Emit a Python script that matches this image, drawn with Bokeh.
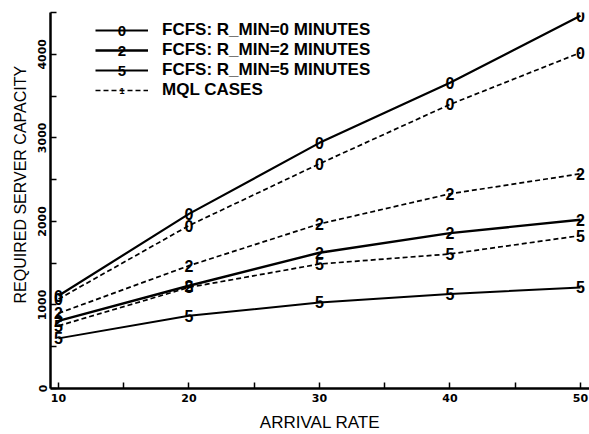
from bokeh.plotting import figure
from bokeh.models import (FixedTicker, Range1d, Legend, LegendItem, Label,
                          ColumnDataSource, Title)
from bokeh.core.properties import value
from bokeh.embed import file_html
from bokeh.resources import INLINE

# ---- data ----
arrival = [10, 20, 30, 40, 50]
fcfs_0 = [1110, 2090, 2940, 3660, 4460]
fcfs_2 = [810, 1230, 1625, 1860, 2020]
fcfs_5 = [600, 870, 1030, 1130, 1210]
mql_0 = [1070, 1950, 2690, 3400, 4020]
mql_2 = [900, 1470, 1970, 2330, 2570]
mql_5 = [750, 1210, 1490, 1610, 1830]

legend_labels = ["FCFS: R_MIN=0 MINUTES", "FCFS: R_MIN=2 MINUTES",
                 "FCFS: R_MIN=5 MINUTES", "MQL CASES"]
x_ticks = [10, 20, 30, 40, 50]
x_minor = [15, 25, 35, 45]
y_ticks = [0, 1000, 2000, 3000, 4000]
y_minor = [500, 1500, 2500, 3500, 4500]

FONT = "Liberation Sans"
TICK_FONT = "DejaVu Sans"

p = figure(width=589, height=434, output_backend="svg", toolbar_location=None,
           x_range=Range1d(9.39, 50.69), y_range=Range1d(0, 4500),
           min_border_left=50, min_border_right=0, min_border_top=12,
           min_border_bottom=46)
p.outline_line_color = None
p.grid.visible = False
p.background_fill_color = "white"

for ax in (p.xaxis[0], p.yaxis[0]):
    ax.axis_line_width = 2.5
    ax.axis_line_color = "black"
    ax.major_tick_in = 6
    ax.major_tick_out = 0
    ax.minor_tick_in = 6
    ax.minor_tick_out = 0
    ax.major_tick_line_width = 1.5
    ax.minor_tick_line_width = 1.5
    ax.major_label_text_font = TICK_FONT
    ax.major_label_text_font_style = "bold"
    ax.major_label_text_font_size = "11px"
    ax.major_label_text_color = "black"
    ax.axis_label_text_font = FONT
    ax.axis_label_text_font_style = "normal"
    ax.axis_label_text_color = "black"

p.xaxis.ticker = FixedTicker(ticks=x_ticks, minor_ticks=x_minor)
p.yaxis.ticker = FixedTicker(ticks=y_ticks, minor_ticks=y_minor)
p.xaxis.axis_label = "ARRIVAL RATE"
p.xaxis.axis_label_text_font_size = "17px"
p.yaxis.major_label_orientation = "vertical"
p.xaxis.major_label_standoff = 5
p.yaxis.major_label_standoff = 4
p.xaxis.axis_label_standoff = 8

ytitle = Title(text="REQUIRED SERVER CAPACITY", align="left", offset=85,
               text_font=FONT, text_font_style="normal",
               text_font_size="16px", text_color="black", standoff=14)
p.add_layout(ytitle, "left")

series = [
    (fcfs_0, "0", "solid", 2.2),
    (fcfs_2, "2", "solid", 2.4),
    (fcfs_5, "5", "solid", 2.0),
    (mql_0, "0", "5 3", 1.7),
    (mql_2, "2", "5 3", 1.7),
    (mql_5, "5", "5 3", 1.7),
]

line_renderers = []
for ys, mark, dash, lw in series:
    src = ColumnDataSource(dict(x=arrival, y=ys, t=[mark] * len(arrival)))
    r = p.line("x", "y", source=src, line_color="black", line_width=lw,
               line_dash=dash)
    line_renderers.append(r)
    p.text("x", "y", text="t", source=src, text_font=value(FONT),
           text_font_style="bold", text_font_size="16px",
           text_align="center", text_baseline="middle", text_color="black")

legend = Legend(items=[
    LegendItem(label=legend_labels[0], renderers=[line_renderers[0]]),
    LegendItem(label=legend_labels[1], renderers=[line_renderers[1]]),
    LegendItem(label=legend_labels[2], renderers=[line_renderers[2]]),
    LegendItem(label=legend_labels[3], renderers=[line_renderers[3]]),
], location=(45, 288))
legend.glyph_width = 53
legend.glyph_height = 20
legend.label_height = 20
legend.spacing = 0
legend.padding = 0
legend.margin = 0
legend.label_standoff = 14
legend.border_line_color = None
legend.background_fill_alpha = 0
legend.label_text_font = FONT
legend.label_text_font_style = "bold"
legend.label_text_font_size = "17px"
legend.label_text_color = "black"
p.add_layout(legend)

# digit markers on the legend sample lines
legend_marks = ["0", "2", "5", "1"]
for i, m in enumerate(legend_marks):
    p.add_layout(Label(x=45 + 26.5, y=376 - 8 - 10 - 20 * i,
                       x_units="screen", y_units="screen", text=m,
                       text_font=FONT, text_font_style="bold",
                       text_font_size="15px" if m != "1" else "9px",
                       text_align="center", text_baseline="middle",
                       text_color="black"))

open("out.html", "w").write(file_html(p, INLINE))
